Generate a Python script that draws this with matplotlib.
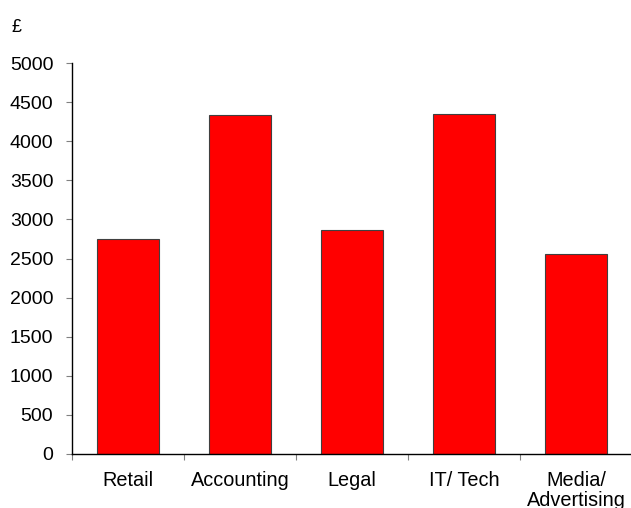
import matplotlib
matplotlib.use('Agg')
import matplotlib.pyplot as plt

plt.rcParams['font.family'] = ['Liberation Sans', 'DejaVu Sans']

categories = ['Retail', 'Accounting', 'Legal', 'IT/ Tech', 'Media/\nAdvertising']
salaries = [2750, 4335, 2865, 4345, 2560]
yticks = [0, 500, 1000, 1500, 2000, 2500, 3000, 3500, 4000, 4500, 5000]

fig = plt.figure(figsize=(6.31, 5.08), dpi=100)
ax = fig.add_axes([72 / 631, 54 / 508, 560 / 631, 391 / 508])

x = list(range(len(categories)))
ax.bar(x, salaries, width=0.55, color='#ff0000', edgecolor='#404040', linewidth=0.8)

ax.set_xlim(-0.5, len(categories) - 0.5)
ax.set_ylim(0, 5000)
ax.set_yticks(yticks)
ax.set_yticklabels([str(v) for v in yticks], fontsize=14)
ax.tick_params(axis='y', length=4.5, width=0.8, color='#808080', pad=9)

# category labels sit between the boundary ticks
ax.set_xticks([i - 0.5 for i in range(len(categories) + 1)])
ax.set_xticklabels([])
ax.set_xticks(x, minor=True)
ax.set_xticklabels(categories, minor=True, fontsize=14.3, linespacing=1.1, va='top')
ax.tick_params(axis='x', which='major', length=4.5, width=0.8, color='#808080')
ax.tick_params(axis='x', which='minor', length=0, pad=12)

for side in ['top', 'right']:
    ax.spines[side].set_visible(False)
ax.spines['left'].set_linewidth(1.0)
ax.spines['bottom'].set_linewidth(1.0)

fig.text(17 / 631, 1 - 28 / 508, '£', fontsize=13, ha='center', va='center')

fig.savefig('out.png', dpi=100)
